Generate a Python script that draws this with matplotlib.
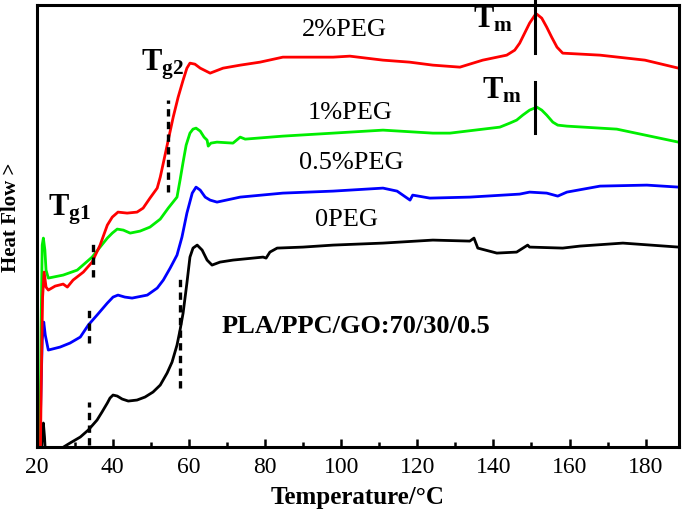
import numpy as np
import matplotlib
matplotlib.use('Agg')
import matplotlib.pyplot as plt
from matplotlib.ticker import MultipleLocator

plt.rcParams['font.family'] = ['Liberation Serif', 'DejaVu Serif']
plt.rcParams['mathtext.fontset'] = 'custom'
plt.rcParams['mathtext.rm'] = 'Liberation Serif'
plt.rcParams['mathtext.bf'] = 'Liberation Serif:bold'

nan = np.nan

# DSC traces, heat flow in arbitrary units
t_0peg = [21.2, 21.5, 21.8, 22.1, 22.4, nan,
          27.1, 28.8, 31.5, 33.6, 35.9, 37.2, 38.6, 39.3, 40.1, 41.2,
          42.5, 44.1, 46.4, 48.5, 50.6, 52.5, 54.3, 55.6, 56.9, 57.7,
          58.5, 59.5, 60.3, 61.1, 62.2, 63.5, 64.8, 66.1, 68.2, 71.6,
          79.5, 80.3, 81.3, 83.2, 90.0, 97.9, 111.0, 124.1, 133.8, 134.9,
          135.9, 140.9, 146.1, 149.0, 149.5, 158.2, 162.7, 174.0, 188.6]
hf_0peg = [-10, 10, 24, 10, -10, nan,
           0, 4, 10, 17, 27, 35, 44, 49, 52, 51,
           48, 46, 47, 50, 55, 62, 74, 85, 102, 117,
           134, 164, 190, 199, 202, 197, 187, 182, 185, 187,
           190, 189, 195, 199, 200, 202, 204, 207, 206, 209,
           199, 194, 195, 202, 200, 199, 201, 204, 200]

t_05peg = [20.8, 21.2, 21.5, 21.9, 22.3, 23.1, 26.2, 28.8, 31.5, 33.6,
           35.9, 38.6, 40.1, 41.4, 43.2, 45.1, 49.1, 51.7, 53.3, 55.1,
           56.9, 58.2, 59.5, 60.9, 61.9, 63.0, 64.3, 65.6, 67.4, 73.5,
           84.7, 97.9, 111.0, 114.7, 118.1, 118.8, 123.3, 133.8, 146.9, 149.5,
           154.0, 156.9, 159.3, 168.0, 180.3, 188.6]
hf_05peg = [-10, 60, 107, 125, 112, 97, 100, 104, 110, 122,
            132, 144, 150, 152, 150, 149, 152, 159, 167, 179,
            192, 210, 234, 254, 260, 257, 250, 247, 245, 250,
            254, 256, 259, 256, 247, 252, 249, 250, 253, 255,
            254, 251, 255, 261, 262, 260]

t_1peg = [20.9, 21.2, 21.5, 21.8, 22.2, 22.5, 23.1, 24.4, 27.0, 30.7,
          34.6, 36.7, 38.6, 39.9, 41.2, 42.8, 44.6, 47.2, 49.8, 52.5,
          54.6, 56.9, 57.7, 58.5, 59.3, 60.3, 61.1, 61.9, 63.0, 64.0,
          64.8, 65.1, 65.8, 67.4, 71.6, 73.5, 74.8, 84.7, 97.9, 111.0,
          124.1, 128.6, 141.7, 144.3, 146.1, 147.7, 149.5, 151.4, 152.7, 154.0,
          155.6, 156.9, 159.3, 172.4, 188.6]
hf_1peg = [-10, 120, 202, 209, 197, 177, 169, 170, 172, 177,
           190, 200, 209, 214, 218, 217, 214, 216, 220, 228,
           239, 250, 267, 285, 302, 314, 318, 319, 316, 310,
           307, 301, 304, 305, 304, 310, 308, 311, 314, 317,
           314, 314, 320, 324, 327, 332, 337, 340, 337, 332,
           325, 322, 321, 318, 305]

t_2peg = [21.0, 21.3, 21.6, 22.0, 22.5, 23.1, 24.9, 27.0, 28.1, 29.6,
          32.3, 34.6, 36.7, 38.6, 39.9, 41.4, 43.8, 46.4, 48.0, 49.8,
          51.7, 52.5, 53.3, 54.6, 55.9, 57.2, 58.5, 59.5, 60.3, 61.6,
          63.0, 65.6, 69.0, 73.5, 78.7, 84.7, 90.0, 97.9, 102.3, 111.0,
          118.0, 124.1, 131.2, 137.2, 143.5, 145.6, 146.9, 148.2, 149.5, 150.9,
          151.4, 152.7, 154.0, 155.3, 156.7, 158.2, 168.0, 179.8, 188.6]
hf_2peg = [-10, 80, 150, 175, 160, 157, 161, 163, 160, 167,
           175, 185, 202, 222, 230, 235, 234, 235, 239, 249,
           259, 270, 284, 307, 330, 350, 367, 379, 384, 383,
           379, 374, 379, 382, 385, 390, 390, 390, 391, 387,
           385, 382, 380, 387, 392, 397, 404, 414, 424, 432,
           433, 429, 420, 410, 400, 394, 392, 387, 379]

series = [(t_0peg, hf_0peg, 'black'), (t_05peg, hf_05peg, '#0000ff'),
          (t_1peg, hf_1peg, '#00ee00'), (t_2peg, hf_2peg, '#ff0000')]

fig = plt.figure(figsize=(6.85, 5.18), dpi=100)
ax = fig.add_axes([0.0533, 0.137, 0.9377, 0.854])

for t, hf, c in series:
    ax.plot(t, hf, color=c, lw=2.0, solid_joinstyle='round',
            solid_capstyle='round')

# glass transition markers (temperature, y from, y to)
tg_marks = [(54.6, 255, 347), (34.9, 170, 207), (33.8, 104, 142),
            (33.8, 2, 45), (57.7, 59, 169)]
for x, y0, y1 in tg_marks:
    ax.plot([x, x], [y0, y1], color='black', lw=2.4, ls=(0, (2.2, 1.6)))

# melting peak markers
tm_marks = [(150.9, 394, 447), (150.9, 314, 365)]
for x, y0, y1 in tm_marks:
    ax.plot([x, x], [y0, y1], color='black', lw=2.2, clip_on=False)

ax.text(100.8, 417, '2%PEG', fontsize=19, ha='center', va='center')
ax.text(102.4, 334, '1%PEG', fontsize=19, ha='center', va='center')
ax.text(102.6, 284, '0.5%PEG', fontsize=19, ha='center', va='center')
ax.text(101.3, 227, '0PEG', fontsize=19, ha='center', va='center')
ax.text(103.9, 121, 'PLA/PPC/GO:70/30/0.5', fontsize=19, fontweight='bold',
        ha='center', va='center')

ax.text(145.2, 420, r'$\mathbf{T_m}$', fontsize=22, ha='right', va='baseline')
ax.text(147.5, 349, r'$\mathbf{T_m}$', fontsize=22, ha='right', va='baseline')
ax.text(47.4, 377, r'$\mathbf{T_{g2}}$', fontsize=22, ha='left', va='baseline')
ax.text(23.1, 232, r'$\mathbf{T_{g1}}$', fontsize=22, ha='left', va='baseline')

ax.set_xlim(20, 188.7)
ax.set_ylim(0, 442.5)
ax.xaxis.set_major_locator(MultipleLocator(20))
ax.xaxis.set_minor_locator(MultipleLocator(10))
ax.set_yticks([])
ax.tick_params(axis='x', which='major', direction='in', length=6, width=1.8,
               labelsize=17, pad=7)
ax.tick_params(axis='x', which='minor', direction='in', length=3.5, width=1.8)
for s in ax.spines.values():
    s.set_linewidth(2.2)

ax.set_xlabel('Temperature/°C', fontsize=18, fontweight='bold', labelpad=6)
ax.set_ylabel('Heat Flow >', fontsize=15, fontweight='bold')
ax.yaxis.set_label_coords(-0.024, 0.52)

fig.savefig('out.png', dpi=100)
